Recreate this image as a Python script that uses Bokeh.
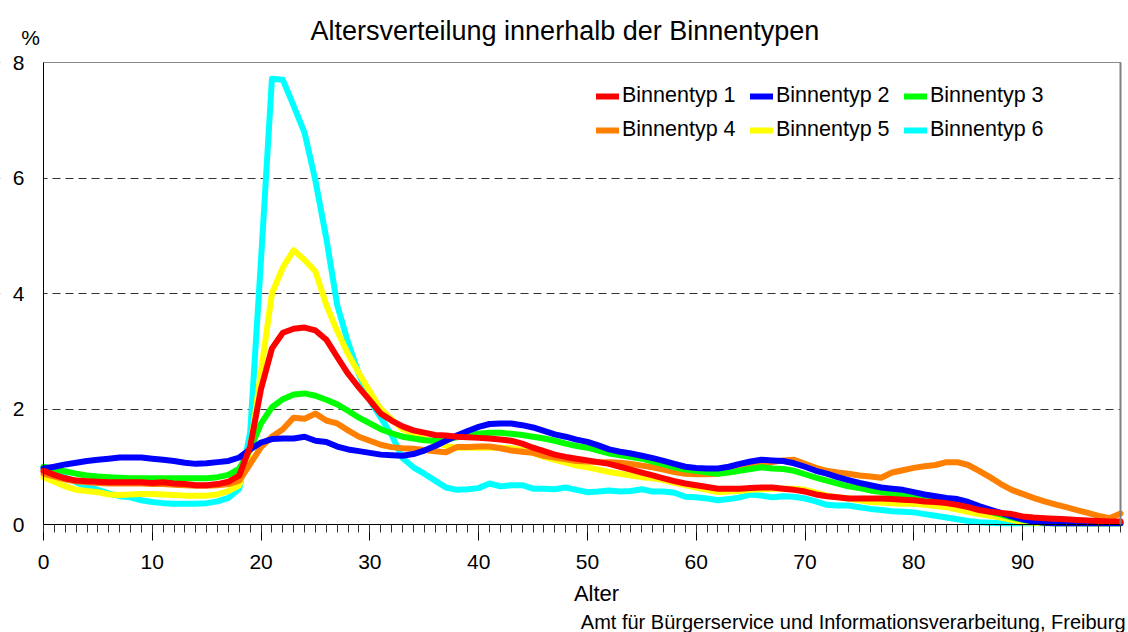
from bokeh.plotting import figure
from bokeh.models import (Label, Legend, LegendItem, SingleIntervalTicker,
                          FixedTicker, Range1d, LinearAxis, BoxAnnotation)
from bokeh.embed import file_html
from bokeh.resources import INLINE

FONT = "Liberation Sans"

ages = list(range(100))

typ1 = [0.93, 0.86, 0.80, 0.76, 0.75, 0.74, 0.73, 0.73, 0.73, 0.73,
        0.72, 0.73, 0.71, 0.70, 0.68, 0.68, 0.70, 0.74, 0.85, 1.35,
        2.35, 3.05, 3.32, 3.39, 3.41, 3.36, 3.20, 2.90, 2.61, 2.37,
        2.15, 1.92, 1.80, 1.70, 1.63, 1.59, 1.55, 1.54, 1.52, 1.51,
        1.50, 1.49, 1.47, 1.45, 1.40, 1.33, 1.27, 1.21, 1.17, 1.14,
        1.11, 1.08, 1.05, 1.00, 0.95, 0.90, 0.85, 0.80, 0.75, 0.71,
        0.68, 0.65, 0.62, 0.62, 0.62, 0.63, 0.64, 0.64, 0.62, 0.60,
        0.57, 0.52, 0.49, 0.47, 0.45, 0.45, 0.45, 0.45, 0.44, 0.43,
        0.42, 0.40, 0.39, 0.37, 0.34, 0.30, 0.25, 0.22, 0.20, 0.18,
        0.14, 0.12, 0.11, 0.10, 0.09, 0.08, 0.07, 0.06, 0.05, 0.05]

typ2 = [0.97, 1.00, 1.04, 1.07, 1.10, 1.12, 1.14, 1.16, 1.16, 1.16,
        1.14, 1.12, 1.10, 1.07, 1.05, 1.06, 1.08, 1.10, 1.16, 1.30,
        1.42, 1.48, 1.49, 1.49, 1.52, 1.45, 1.43, 1.35, 1.30, 1.27,
        1.24, 1.21, 1.20, 1.19, 1.22, 1.28, 1.36, 1.45, 1.54, 1.62,
        1.69, 1.74, 1.75, 1.75, 1.72, 1.68, 1.62, 1.56, 1.52, 1.47,
        1.43, 1.37, 1.30, 1.26, 1.23, 1.19, 1.15, 1.10, 1.05, 1.00,
        0.98, 0.97, 0.97, 1.00, 1.05, 1.09, 1.12, 1.11, 1.10, 1.06,
        1.00, 0.93, 0.88, 0.82, 0.77, 0.72, 0.68, 0.64, 0.62, 0.60,
        0.56, 0.52, 0.49, 0.46, 0.44, 0.39, 0.32, 0.26, 0.20, 0.14,
        0.09, 0.05, 0.03, 0.02, 0.02, 0.02, 0.02, 0.02, 0.02, 0.02]

typ3 = [1.00, 0.96, 0.92, 0.88, 0.85, 0.83, 0.82, 0.81, 0.80, 0.80,
        0.80, 0.80, 0.80, 0.80, 0.80, 0.80, 0.82, 0.86, 0.97, 1.30,
        1.75, 2.03, 2.17, 2.25, 2.27, 2.23, 2.16, 2.08, 1.97, 1.85,
        1.75, 1.65, 1.58, 1.52, 1.49, 1.46, 1.45, 1.47, 1.51, 1.54,
        1.57, 1.59, 1.59, 1.57, 1.55, 1.52, 1.49, 1.45, 1.40, 1.36,
        1.33, 1.28, 1.23, 1.20, 1.17, 1.14, 1.09, 1.04, 0.99, 0.95,
        0.93, 0.90, 0.88, 0.90, 0.93, 0.96, 0.99, 0.97, 0.96, 0.93,
        0.87, 0.81, 0.76, 0.71, 0.66, 0.63, 0.59, 0.56, 0.54, 0.51,
        0.49, 0.47, 0.45, 0.43, 0.39, 0.33, 0.27, 0.22, 0.17, 0.12,
        0.08, 0.05, 0.03, 0.02, 0.02, 0.02, 0.02, 0.02, 0.02, 0.02]

typ4 = [0.88, 0.83, 0.78, 0.75, 0.73, 0.72, 0.71, 0.71, 0.71, 0.71,
        0.70, 0.70, 0.69, 0.68, 0.67, 0.67, 0.68, 0.70, 0.76, 1.05,
        1.34, 1.52, 1.65, 1.85, 1.83, 1.92, 1.80, 1.75, 1.63, 1.52,
        1.45, 1.38, 1.34, 1.32, 1.31, 1.29, 1.27, 1.25, 1.34, 1.34,
        1.35, 1.35, 1.32, 1.28, 1.26, 1.24, 1.19, 1.16, 1.13, 1.10,
        1.09, 1.08, 1.08, 1.07, 1.05, 1.02, 0.99, 0.95, 0.91, 0.88,
        0.87, 0.87, 0.88, 0.92, 0.96, 1.00, 1.03, 1.08, 1.11, 1.12,
        1.05, 0.98, 0.93, 0.90, 0.88, 0.85, 0.83, 0.81, 0.90, 0.94,
        0.98, 1.01, 1.03, 1.08, 1.08, 1.03, 0.93, 0.82, 0.70, 0.60,
        0.53, 0.46, 0.40, 0.35, 0.30, 0.25, 0.20, 0.15, 0.11, 0.19]

typ5 = [0.82, 0.74, 0.66, 0.60, 0.58, 0.56, 0.52, 0.51, 0.52, 0.53,
        0.53, 0.52, 0.51, 0.50, 0.50, 0.50, 0.52, 0.58, 0.68, 1.30,
        2.65, 4.00, 4.45, 4.75, 4.58, 4.38, 3.80, 3.35, 2.95, 2.62,
        2.30, 2.00, 1.82, 1.65, 1.57, 1.48, 1.43, 1.36, 1.33, 1.33,
        1.33, 1.33, 1.33, 1.32, 1.29, 1.24, 1.17, 1.12, 1.07, 1.02,
        0.99, 0.95, 0.91, 0.88, 0.85, 0.82, 0.80, 0.77, 0.72, 0.68,
        0.64, 0.60, 0.56, 0.57, 0.58, 0.60, 0.61, 0.62, 0.62, 0.62,
        0.60, 0.55, 0.50, 0.47, 0.45, 0.42, 0.39, 0.38, 0.37, 0.36,
        0.36, 0.34, 0.32, 0.30, 0.26, 0.22, 0.18, 0.15, 0.12, 0.08,
        0.04, 0.03, 0.02, 0.02, 0.02, 0.02, 0.02, 0.02, 0.02, 0.02]

typ6 = [1.00, 0.92, 0.82, 0.73, 0.66, 0.60, 0.54, 0.49, 0.47, 0.42,
        0.39, 0.37, 0.36, 0.36, 0.36, 0.37, 0.40, 0.46, 0.62, 1.60,
        4.60, 7.72, 7.70, 7.25, 6.78, 5.95, 4.95, 3.80, 3.15, 2.60,
        2.15, 1.85, 1.55, 1.15, 0.99, 0.88, 0.76, 0.64, 0.60, 0.61,
        0.63, 0.71, 0.66, 0.68, 0.68, 0.62, 0.62, 0.61, 0.64, 0.60,
        0.56, 0.57, 0.59, 0.57, 0.58, 0.61, 0.57, 0.57, 0.55, 0.48,
        0.47, 0.45, 0.42, 0.44, 0.47, 0.52, 0.50, 0.47, 0.49, 0.48,
        0.45, 0.40, 0.34, 0.33, 0.33, 0.30, 0.27, 0.25, 0.23, 0.22,
        0.21, 0.18, 0.15, 0.12, 0.09, 0.06, 0.04, 0.03, 0.02, 0.02,
        0.02, 0.02, 0.02, 0.02, 0.02, 0.02, 0.02, 0.02, 0.02, 0.02]

series = [typ1, typ2, typ3, typ4, typ5, typ6]
names = ["Binnentyp 1", "Binnentyp 2", "Binnentyp 3",
         "Binnentyp 4", "Binnentyp 5", "Binnentyp 6"]
colors = ["#FF0000", "#0000FF", "#00FF00", "#FF8000", "#FFFF00", "#00FFFF"]

title_text = "Altersverteilung innerhalb der Binnentypen"
x_label = "Alter"
y_unit = "%"
source_text = "Amt für Bürgerservice und Informationsverarbeitung, Freiburg"

X_MIN, X_MAX = 0, 99     # age axis extent
Y_MIN, Y_MAX = 0, 8      # percent axis extent

# The frame fills the whole canvas so that all texts can live inside it;
# axes are pinned at 0 with limited bounds.
W, H = 1128, 632
FL, FR, FT, FB = 43, 1120, 62, 524   # pixel box of the visible chart area
xs = (X_MAX - X_MIN) / (FR - FL)
ys = (Y_MAX - Y_MIN) / (FB - FT)
x_range = Range1d(X_MIN - FL * xs, X_MAX + (W - FR) * xs)
y_range = Range1d(Y_MIN - (H - FB) * ys, Y_MAX + FT * ys)

p = figure(width=W, height=H, output_backend="svg", toolbar_location=None,
           x_range=x_range, y_range=y_range,
           min_border_left=0, min_border_right=0, min_border_top=0,
           min_border_bottom=0)
p.outline_line_color = None
p.background_fill_color = "white"
p.border_fill_color = "white"

# x axis
xa = p.xaxis[0]
xa.fixed_location = 0
xa.bounds = (X_MIN, X_MAX)
xa.ticker = SingleIntervalTicker(interval=10, num_minor_ticks=10)
xa.major_tick_out = 16
xa.major_tick_in = 0
xa.minor_tick_out = 8
xa.minor_tick_in = 0
xa.major_tick_line_color = "black"
xa.minor_tick_line_color = "#333333"
xa.axis_line_color = "black"
xa.major_label_text_font = FONT
xa.major_label_text_font_size = "21px"
xa.major_label_text_color = "black"
xa.major_label_standoff = 14

# y axis
ya = p.yaxis[0]
ya.fixed_location = 0
ya.bounds = (Y_MIN, Y_MAX)
ya.ticker = FixedTicker(ticks=[0, 2, 4, 6, 8])
ya.major_tick_out = 0
ya.major_tick_in = 0
ya.minor_tick_out = 0
ya.minor_tick_in = 0
ya.major_tick_line_color = None
ya.minor_tick_line_color = None
ya.axis_line_color = "black"
ya.major_label_text_font = FONT
ya.major_label_text_font_size = "21px"
ya.major_label_text_color = "black"
ya.major_label_standoff = 19

# grid (dashed), limited to the chart area by white masks outside it
p.xgrid.grid_line_color = None
p.ygrid.ticker = FixedTicker(ticks=[2, 4, 6, 8])
p.ygrid.grid_line_color = "#333333"
p.ygrid.grid_line_dash = "8 5"
p.ygrid.grid_line_width = 1
p.add_layout(BoxAnnotation(right=X_MIN, fill_color="white", fill_alpha=1,
                           line_color=None, level="underlay"))
p.add_layout(BoxAnnotation(left=X_MAX, fill_color="white", fill_alpha=1,
                           line_color=None, level="underlay"))

# right and top frame borders (grey) as bare axes
right_ax = LinearAxis(fixed_location=X_MAX, bounds=(Y_MIN, Y_MAX),
                      ticker=FixedTicker(ticks=[]), axis_line_color="#808080",
                      axis_line_width=2, major_tick_line_color=None,
                      minor_tick_line_color=None)
p.add_layout(right_ax, "right")
top_ax = LinearAxis(fixed_location=Y_MAX, bounds=(X_MIN, X_MAX),
                    ticker=FixedTicker(ticks=[]), axis_line_color="#888888",
                    axis_line_width=1, major_tick_line_color=None,
                    minor_tick_line_color=None)
p.add_layout(top_ax, "above")

renderers = []
for yv, c in zip(series, colors):
    r = p.line(ages, yv, line_color=c, line_width=6, line_join="round", line_cap="round")
    renderers.append(r)
# draw order: typ6 bottom ... typ1 top
p.renderers = [rr for rr in p.renderers if rr not in renderers] + renderers[::-1]

legend = Legend(items=[LegendItem(label=n, renderers=[r]) for n, r in zip(names, renderers)],
                orientation="horizontal", ncols=3, location=(596, 490),
                border_line_color=None, background_fill_alpha=0,
                padding=0, margin=0, spacing=9,
                glyph_width=23, glyph_height=20, label_standoff=3, label_width=119,
                label_text_font=FONT, label_text_font_size="21.5px",
                label_text_color="black")
p.add_layout(legend)

def px_x(px):
    return X_MIN + (px - FL) * xs

def px_y(py):
    return Y_MIN + (FB - py) * ys

p.add_layout(Label(x=px_x(310), y=px_y(30), text=title_text, text_font=FONT,
                   text_font_size="27px", text_align="left", text_baseline="middle",
                   text_color="black"))
p.add_layout(Label(x=px_x(30), y=px_y(37), text=y_unit, text_font=FONT,
                   text_font_size="21px", text_align="center", text_baseline="middle",
                   text_color="black"))
p.add_layout(Label(x=px_x(596), y=px_y(593), text=x_label, text_font=FONT,
                   text_font_size="22px", text_align="center", text_baseline="middle",
                   text_color="black"))
p.add_layout(Label(x=px_x(1125), y=px_y(621), text=source_text, text_font=FONT,
                   text_font_size="20px", text_align="right", text_baseline="middle",
                   text_color="black"))

open("out.html", "w").write(file_html(p, INLINE))
